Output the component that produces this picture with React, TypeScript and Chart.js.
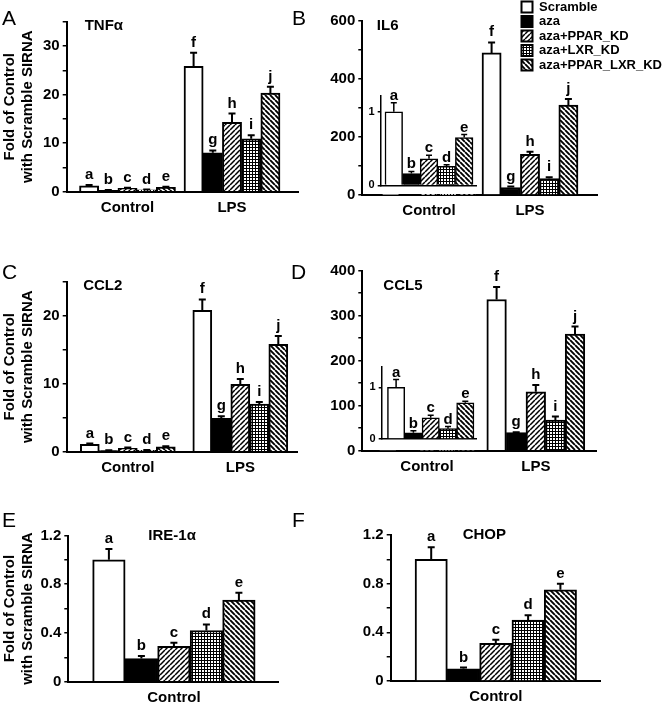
import React, { useEffect, useRef } from 'react';
import { Chart, registerables } from 'chart.js';

Chart.register(...registerables);

const FONT = "'Liberation Sans', Arial, Helvetica, sans-serif";
Chart.defaults.font.family = FONT;
Chart.defaults.color = '#000';

// ---------------- data ----------------
const seriesNames = ['Scramble', 'aza', 'aza+PPAR_KD', 'aza+LXR_KD', 'aza+PPAR_LXR_KD'];
const groupsBoth = ['Control', 'LPS'];
const groupsControl = ['Control'];
const lettersBoth = [['a', 'f'], ['b', 'g'], ['c', 'h'], ['d', 'i'], ['e', 'j']];
const lettersControl = [['a'], ['b'], ['c'], ['d'], ['e']];
const axisTitle = ['Fold of Control', 'with Scramble SIRNA'];

// A: TNFα  (per series: [Control, LPS])
const tnfMeans = [[1.2, 25.8], [0.3, 8.0], [0.7, 14.3], [0.4, 10.9], [0.9, 20.3]];
const tnfUpper = [[1.4, 28.6], [0.35, 8.5], [0.8, 16.1], [0.45, 11.6], [1.0, 21.6]];
const tnfTickLabels = [0, 10, 20, 30];

// B: IL6
const il6Means = [[1.0, 490], [0.16, 26], [0.36, 140], [0.26, 57], [0.65, 310]];
const il6Upper = [[1.12, 526], [0.19, 29], [0.41, 149], [0.28, 61], [0.69, 331]];
const il6TickLabels = [0, 200, 400, 600];
const insetTickLabels = [0, 1];

// C: CCL2
const ccl2Means = [[1.1, 20.8], [0.15, 4.9], [0.5, 9.9], [0.2, 7.0], [0.7, 15.8]];
const ccl2Upper = [[1.2, 22.4], [0.2, 5.2], [0.6, 10.7], [0.25, 7.3], [0.8, 17.0]];
const ccl2TickLabels = [0, 10, 20];

// D: CCL5
const ccl5Means = [[1.0, 336], [0.12, 40], [0.41, 131], [0.2, 68], [0.7, 259]];
const ccl5Upper = [[1.15, 364], [0.16, 41], [0.46, 146], [0.24, 76], [0.73, 276]];
const ccl5TickLabels = [0, 100, 200, 300, 400];

// E: IRE-1α
const ire1Means = [[1.0], [0.19], [0.29], [0.42], [0.67]];
const ire1Upper = [[1.09], [0.21], [0.32], [0.47], [0.73]];
// F: CHOP
const chopMeans = [[1.0], [0.1], [0.31], [0.5], [0.75]];
const chopUpper = [[1.1], [0.11], [0.34], [0.54], [0.8]];
const erTickLabels = [0, 0.4, 0.8, 1.2];

// ---------------- layout ----------------
type Box = { left: number; top: number; width: number; height: number };
type Area = { left: number; top: number; right: number; bottom: number };
interface PanelSpec {
  canvas: Box; area: Area; groups: string[]; centers: number[]; barWidth: number;
  means: number[][]; upper: number[][]; letters: string[][];
  yMax: number; yStep: number; yLabels: number[];
  yTitle: boolean; inset: boolean; skip: number[];
  title?: { text: string; dx: number; dy: number };
}

const specs: PanelSpec[] = [
  { canvas: { left: 0, top: 0, width: 305, height: 225 }, area: { left: 66.7, top: 21.7, right: 298, bottom: 191.7 },
    groups: groupsBoth, centers: [127.5, 232], barWidth: 19.2, means: tnfMeans, upper: tnfUpper, letters: lettersBoth,
    yMax: 35, yStep: 5, yLabels: tnfTickLabels, yTitle: true, inset: false, skip: [], title: { text: 'TNFα', dx: 18, dy: 4.5 } },
  { canvas: { left: 300, top: 0, width: 305, height: 225 }, area: { left: 362.3, top: 21, right: 597, bottom: 195 },
    groups: groupsBoth, centers: [429, 530], barWidth: 19.2, means: il6Means, upper: il6Upper, letters: lettersBoth,
    yMax: 600, yStep: 100, yLabels: il6TickLabels, yTitle: false, inset: false, skip: [0], title: { text: 'IL6', dx: 14.5, dy: 5 } },
  { canvas: { left: 350, top: 82, width: 135, height: 113 }, area: { left: 380.7, top: 95.5, right: 476.7, bottom: 185.5 },
    groups: groupsControl, centers: [429], barWidth: 17.6, means: il6Means, upper: il6Upper, letters: lettersControl,
    yMax: 1.22, yStep: 1, yLabels: insetTickLabels, yTitle: false, inset: true, skip: [] },
  { canvas: { left: 0, top: 230, width: 305, height: 245 }, area: { left: 66.7, top: 281.7, right: 297.7, bottom: 451.7 },
    groups: groupsBoth, centers: [127.8, 240.3], barWidth: 19, means: ccl2Means, upper: ccl2Upper, letters: lettersBoth,
    yMax: 25, yStep: 5, yLabels: ccl2TickLabels, yTitle: true, inset: false, skip: [], title: { text: 'CCL2', dx: 16.5, dy: 4.5 } },
  { canvas: { left: 300, top: 230, width: 305, height: 245 }, area: { left: 362.3, top: 270.7, right: 596.7, bottom: 450.7 },
    groups: groupsBoth, centers: [427, 535.8], barWidth: 19.6, means: ccl5Means, upper: ccl5Upper, letters: lettersBoth,
    yMax: 400, yStep: 50, yLabels: ccl5TickLabels, yTitle: false, inset: false, skip: [0], title: { text: 'CCL5', dx: 21, dy: 15.5 } },
  { canvas: { left: 350, top: 355, width: 135, height: 94 }, area: { left: 381.7, top: 366.7, right: 476.7, bottom: 439 },
    groups: groupsControl, centers: [430.7], barWidth: 17.3, means: ccl5Means, upper: ccl5Upper, letters: lettersControl,
    yMax: 1.4, yStep: 1, yLabels: insetTickLabels, yTitle: false, inset: true, skip: [] },
  { canvas: { left: 0, top: 480, width: 300, height: 225 }, area: { left: 68.3, top: 535.5, right: 278.3, bottom: 681.7 },
    groups: groupsControl, centers: [173.9], barWidth: 32.5, means: ire1Means, upper: ire1Upper, letters: lettersControl,
    yMax: 1.2, yStep: 0.2, yLabels: erTickLabels, yTitle: true, inset: false, skip: [], title: { text: 'IRE-1α', dx: 80, dy: 0 } },
  { canvas: { left: 320, top: 480, width: 300, height: 225 }, area: { left: 390.7, top: 535, right: 600, bottom: 681 },
    groups: groupsControl, centers: [495.8], barWidth: 32.3, means: chopMeans, upper: chopUpper, letters: lettersControl,
    yMax: 1.2, yStep: 0.2, yLabels: erTickLabels, yTitle: false, inset: false, skip: [], title: { text: 'CHOP', dx: 72, dy: 0 } },
];

const panelLetters = [
  { text: 'A', x: 2, baseline: 25 }, { text: 'B', x: 292, baseline: 25 },
  { text: 'C', x: 2, baseline: 279 }, { text: 'D', x: 291, baseline: 279 },
  { text: 'E', x: 2, baseline: 526.7 }, { text: 'F', x: 292, baseline: 526.7 },
];

// ---------------- helpers ----------------
function makePattern(size: number, draw: (g: CanvasRenderingContext2D, s: number) => void): CanvasPattern {
  const c = document.createElement('canvas');
  c.width = size; c.height = size;
  const g = c.getContext('2d')!;
  g.fillStyle = '#fff'; g.fillRect(0, 0, size, size);
  g.strokeStyle = '#000'; g.fillStyle = '#000';
  draw(g, size);
  return g.createPattern(c, 'repeat')!;
}

function makeFills(): (string | CanvasPattern)[] {
  const fwd = makePattern(5, (g, s) => {
    g.lineWidth = 1.5; g.beginPath();
    for (let k = -1; k <= 1; k++) { g.moveTo(k * s, s); g.lineTo(k * s + s, 0); }
    g.stroke();
  });
  const grid = makePattern(3, (g) => { g.fillRect(0, 0, 3, 1); g.fillRect(0, 0, 1, 3); });
  const back = makePattern(5, (g, s) => {
    g.lineWidth = 1.9; g.beginPath();
    for (let k = -1; k <= 1; k++) { g.moveTo(k * s, 0); g.lineTo(k * s + s, s); }
    g.stroke();
  });
  return ['#fff', '#000', fwd, grid, back];
}

const fmt = (v: number) => String(Math.round(v * 100) / 100);

const errorPlugin = {
  id: 'errLetters',
  afterDatasetsDraw(chart: any, _args: any, opts: any) {
    const ctx = chart.ctx as CanvasRenderingContext2D;
    const yScale = chart.scales.y;
    const skip: number[] = opts.skip || [];
    ctx.save();
    chart.data.datasets.forEach((ds: any, di: number) => {
      const meta = chart.getDatasetMeta(di);
      meta.data.forEach((bar: any, i: number) => {
        if (skip.includes(i)) return;
        const top = bar.y;
        const yErr = yScale.getPixelForValue(ds.upper[i]);
        ctx.strokeStyle = '#000';
        ctx.lineWidth = opts.lineWidth;
        ctx.beginPath();
        ctx.moveTo(bar.x, top); ctx.lineTo(bar.x, yErr);
        ctx.moveTo(bar.x - opts.cap, yErr); ctx.lineTo(bar.x + opts.cap, yErr);
        ctx.stroke();
        const letter = ds.letters[i];
        if (letter) {
          ctx.fillStyle = '#000';
          ctx.font = `bold ${opts.fontSize}px ${FONT}`;
          ctx.textAlign = 'center';
          ctx.textBaseline = 'alphabetic';
          ctx.fillText(letter, bar.x, Math.min(yErr, top) - opts.gap);
        }
      });
    });
    ctx.restore();
  },
};

const titlePlugin = {
  id: 'geneTitle',
  afterDraw(chart: any, _args: any, opts: any) {
    if (!opts || !opts.text) return;
    const { ctx, chartArea } = chart;
    ctx.save();
    ctx.font = `bold 15px ${FONT}`;
    ctx.fillStyle = '#000';
    ctx.textAlign = 'left';
    ctx.textBaseline = 'middle';
    ctx.fillText(opts.text, chartArea.left + opts.dx, chartArea.top + opts.dy);
    ctx.restore();
  },
};

function buildConfig(p: PanelSpec, fills: (string | CanvasPattern)[]): any {
  const unit = p.centers.length > 1 ? p.centers[1] - p.centers[0] : 100;
  const xMin = (p.area.left - p.centers[0]) / unit;
  const xMax = (p.area.right - p.centers[0]) / unit;
  const yAxisWidth = p.area.left - p.canvas.left;
  const xAxisHeight = p.canvas.top + p.canvas.height - p.area.bottom;
  const lw = p.inset ? 1.5 : 2;
  return {
    type: 'bar',
    data: {
      datasets: seriesNames.map((name, s) => ({
        label: name,
        data: p.groups.map((_, i) => ({ x: i, y: p.means[s][i] })),
        upper: p.upper[s],
        letters: p.letters[s],
        backgroundColor: fills[s],
        borderColor: '#000',
        borderWidth: lw,
        borderSkipped: 'start',
        barThickness: p.barWidth,
      })),
    },
    options: {
      responsive: false,
      animation: false,
      events: [],
      layout: { padding: { left: 0, bottom: 0, top: p.area.top - p.canvas.top, right: p.canvas.left + p.canvas.width - p.area.right } },
      scales: {
        x: {
          type: 'linear', min: xMin, max: xMax, offset: false, z: 1,
          afterFit: (s: any) => { s.height = xAxisHeight; },
          afterBuildTicks: (s: any) => { s.ticks = p.groups.map((_, i) => ({ value: i })); },
          grid: { display: false, drawTicks: false },
          border: { display: true, color: '#000', width: lw },
          ticks: {
            display: !p.inset, padding: 7, autoSkip: false, maxRotation: 0, minRotation: 0, color: '#000',
            font: { family: FONT, size: 15, weight: 'bold' },
            callback: (v: number) => p.groups[Math.round(v)] ?? '',
          },
        },
        y: {
          type: 'linear', min: 0, max: p.yMax, z: 1,
          afterFit: (s: any) => { s.width = yAxisWidth; },
          grid: { display: true, drawOnChartArea: false, drawTicks: true, tickLength: p.inset ? 3 : 4, color: '#000', lineWidth: 1.5 },
          border: { display: true, color: '#000', width: lw },
          ticks: {
            stepSize: p.yStep, includeBounds: false, padding: 3, color: '#000',
            font: { family: FONT, size: p.inset ? 11 : 15, weight: 'bold' },
            callback: (v: number) => (p.yLabels.some((l) => Math.abs(l - v) < 1e-6) ? fmt(v) : ''),
          },
          title: {
            display: p.yTitle, text: axisTitle, color: '#000',
            font: { family: FONT, size: 15, weight: 'bold', lineHeight: 1.2 },
            padding: { top: 1, bottom: 0 },
          },
        },
      },
      plugins: {
        legend: { display: false },
        tooltip: { enabled: false },
        errLetters: { skip: p.skip, lineWidth: p.inset ? 1.5 : 2, cap: p.inset ? 3 : 3.5, gap: p.inset ? 3 : 6, fontSize: 15 },
        geneTitle: p.title ? { text: p.title.text, dx: p.title.dx, dy: p.title.dy } : { text: '' },
      },
    },
    plugins: [errorPlugin, titlePlugin],
  };
}

function legendConfig(fills: (string | CanvasPattern)[]): any {
  return {
    type: 'bar',
    data: {
      labels: [],
      datasets: seriesNames.map((name, s) => ({
        label: name, data: [], backgroundColor: fills[s], borderColor: '#000', borderWidth: 2,
      })),
    },
    options: {
      responsive: false,
      animation: false,
      events: [],
      layout: { padding: 0 },
      scales: { x: { display: false }, y: { display: false } },
      plugins: {
        tooltip: { enabled: false },
        legend: {
          position: 'left', align: 'start',
          labels: { color: '#000', font: { family: FONT, size: 13, weight: 'bold' }, boxWidth: 11, boxHeight: 11, padding: 1.5 },
        },
      },
    },
  };
}

export default function App() {
  const refs = useRef<(HTMLCanvasElement | null)[]>([]);
  const legendRef = useRef<HTMLCanvasElement | null>(null);

  useEffect(() => {
    const fills = makeFills();
    const charts: Chart[] = specs.map((p, i) => new Chart(refs.current[i]!, buildConfig(p, fills)));
    charts.push(new Chart(legendRef.current!, legendConfig(fills)));
    return () => charts.forEach((c) => c.destroy());
  }, []);

  return (
    <div style={{ position: 'absolute', left: 0, top: 0, width: 667, height: 705, overflow: 'hidden', background: '#fff' }}>
      {specs.map((p, i) => (
        <canvas
          key={i}
          ref={(el) => { refs.current[i] = el; }}
          width={p.canvas.width}
          height={p.canvas.height}
          style={{ position: 'absolute', left: p.canvas.left, top: p.canvas.top }}
        />
      ))}
      <canvas ref={legendRef} width={320} height={78} style={{ position: 'absolute', left: 520, top: -1 }} />
      {panelLetters.map((l) => (
        <div
          key={l.text}
          style={{
            position: 'absolute', left: l.x, top: l.baseline - 17.8, fontFamily: FONT, fontSize: 21,
            lineHeight: '21px', color: '#000', whiteSpace: 'nowrap',
          }}
        >
          {l.text}
        </div>
      ))}
    </div>
  );
}
